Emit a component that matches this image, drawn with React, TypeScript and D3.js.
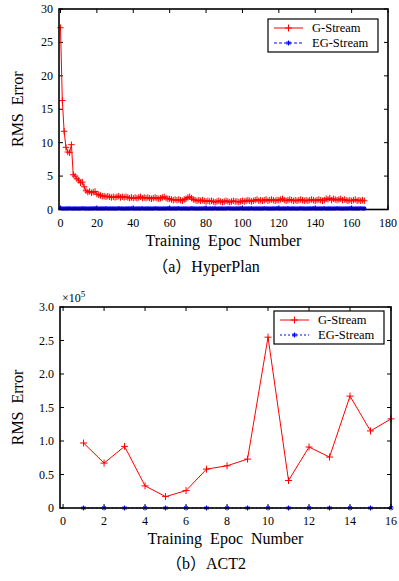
import React from 'react';
import * as d3 from 'd3';

// (a) HyperPlan: RMS error per training epoch, epochs 0..167
const hyperG: number[] = [
  27.2, 16.3, 11.7, 9.3, 8.6, 8.5, 9.7, 5.2, 5.0, 4.6, 4.4, 4.0, 4.1, 3.4, 2.8, 2.6, 2.7, 2.5, 2.6, 2.7,
  2.3, 2.2, 2.1, 2.0, 2.0, 1.9, 2.0, 1.9, 1.8, 1.9, 1.8, 1.9, 2.0, 1.8, 1.9, 1.8, 1.9, 1.8, 1.7, 1.8,
  1.7, 1.8, 1.7, 1.8, 1.9, 1.7, 1.8, 1.7, 1.8, 1.7, 1.6, 1.7, 1.8, 1.7, 1.6, 1.7, 1.8, 1.9, 1.7, 1.6,
  1.6, 1.5, 1.4, 1.5, 1.4, 1.5, 1.4, 1.3, 1.5, 1.6, 1.8, 1.9, 1.7, 1.5, 1.4, 1.3, 1.4, 1.3, 1.4, 1.3,
  1.2, 1.3, 1.2, 1.3, 1.2, 1.1, 1.2, 1.3, 1.2, 1.1, 1.2, 1.3, 1.2, 1.1, 1.2, 1.3, 1.2, 1.2, 1.1, 1.2,
  1.3, 1.2, 1.3, 1.4, 1.3, 1.2, 1.3, 1.4, 1.5, 1.3, 1.4, 1.3, 1.4, 1.5, 1.3, 1.4, 1.5, 1.4, 1.3, 1.4,
  1.4, 1.5, 1.6, 1.4, 1.3, 1.4, 1.5, 1.4, 1.3, 1.4, 1.3, 1.4, 1.5, 1.4, 1.3, 1.4, 1.3, 1.4, 1.5, 1.4,
  1.3, 1.4, 1.5, 1.4, 1.3, 1.4, 1.6, 1.5, 1.7, 1.4, 1.6, 1.5, 1.4, 1.5, 1.6, 1.4, 1.5, 1.4, 1.3, 1.4,
  1.3, 1.4, 1.5, 1.3, 1.4, 1.3, 1.4, 1.3,
];
const hyperEG: number[] = [
  0.17, 0.15, 0.14, 0.16, 0.15, 0.17, 0.14, 0.15, 0.16, 0.15, 0.14, 0.15, 0.17, 0.16, 0.15, 0.14, 0.15, 0.16, 0.15, 0.17,
  0.15, 0.14, 0.16, 0.15, 0.15, 0.17, 0.14, 0.15, 0.16, 0.15, 0.14, 0.15, 0.17, 0.16, 0.15, 0.14, 0.15, 0.16, 0.15, 0.17,
  0.15, 0.14, 0.16, 0.15, 0.15, 0.17, 0.14, 0.15, 0.16, 0.15, 0.14, 0.15, 0.17, 0.16, 0.15, 0.14, 0.15, 0.16, 0.15, 0.17,
  0.15, 0.14, 0.16, 0.15, 0.15, 0.17, 0.14, 0.15, 0.16, 0.15, 0.14, 0.15, 0.17, 0.16, 0.15, 0.14, 0.15, 0.16, 0.15, 0.17,
  0.15, 0.14, 0.16, 0.15, 0.15, 0.17, 0.14, 0.15, 0.16, 0.15, 0.14, 0.15, 0.17, 0.16, 0.15, 0.14, 0.15, 0.16, 0.15, 0.17,
  0.15, 0.14, 0.16, 0.15, 0.15, 0.17, 0.14, 0.15, 0.16, 0.15, 0.14, 0.15, 0.17, 0.16, 0.15, 0.14, 0.15, 0.16, 0.15, 0.17,
  0.15, 0.14, 0.16, 0.15, 0.15, 0.17, 0.14, 0.15, 0.16, 0.15, 0.14, 0.15, 0.17, 0.16, 0.15, 0.14, 0.15, 0.16, 0.15, 0.17,
  0.15, 0.14, 0.16, 0.15, 0.15, 0.17, 0.14, 0.15, 0.16, 0.15, 0.14, 0.15, 0.17, 0.16, 0.15, 0.14, 0.15, 0.16, 0.15, 0.17,
  0.15, 0.14, 0.16, 0.15, 0.15, 0.17, 0.14, 0.15,
];
const hyperXTicks = [0, 20, 40, 60, 80, 100, 120, 140, 160, 180];
const hyperYTicks = [0, 5, 10, 15, 20, 25, 30];

// (b) ACT2: RMS error (x10^5) per training epoch, epochs 1..16
const actEpochs = [1, 2, 3, 4, 5, 6, 7, 8, 9, 10, 11, 12, 13, 14, 15, 16];
const actG = [0.97, 0.67, 0.92, 0.33, 0.17, 0.26, 0.58, 0.63, 0.73, 2.55, 0.41, 0.91, 0.76, 1.67, 1.15, 1.33];
const actEG = [0, 0, 0, 0, 0, 0, 0, 0, 0, 0, 0, 0, 0, 0, 0, 0];
const actXTicks = [0, 2, 4, 6, 8, 10, 12, 14, 16];
const actYTicks = [0, 0.5, 1.0, 1.5, 2.0, 2.5, 3.0];

const seriesNames = ['G-Stream', 'EG-Stream'];

const RED = '#ff0000';
const BLUE = '#0000ff';
const FONT = '"Liberation Serif", "Noto Sans CJK SC", serif';

const Plus = ({ x, y, s = 3.5 }: { x: number; y: number; s?: number }) => (
  <path d={`M${x - s},${y}H${x + s}M${x},${y - s}V${y + s}`} stroke={RED} strokeWidth={1} fill="none" />
);

const Star = ({ x, y, s = 2.5, w = 1 }: { x: number; y: number; s?: number; w?: number }) => (
  <path
    d={`M${x - s},${y}H${x + s}M${x},${y - s}V${y + s}M${x - s * 0.7},${y - s * 0.7}L${x + s * 0.7},${y + s * 0.7}M${x - s * 0.7},${y + s * 0.7}L${x + s * 0.7},${y - s * 0.7}`}
    stroke={BLUE}
    strokeWidth={w}
    fill="none"
  />
);

interface PanelProps {
  xs: number[];
  g: number[];
  eg: number[];
  xDomain: [number, number];
  xRange: [number, number];
  yDomain: [number, number];
  box: { l: number; r: number; t: number; b: number };
  xTicks: number[];
  yTicks: number[];
  yFmt: (v: number) => string;
  legend: { x: number; y: number; w: number; h: number };
  caption: string;
  capY: number;
  plusSize: number;
  starSize: number;
  starWidth: number;
  egDash: string;
  exponent?: boolean;
}

const Panel: React.FC<PanelProps> = (p) => {
  const x = d3.scaleLinear().domain(p.xDomain).range(p.xRange);
  const y = d3.scaleLinear().domain(p.yDomain).range([p.box.b, p.box.t]);
  const lineG = d3.line<number>().x((_, i) => x(p.xs[i])).y((d) => y(d))(p.g) || '';
  const lineEG = d3.line<number>().x((_, i) => x(p.xs[i])).y((d) => y(d))(p.eg) || '';
  const tk = 4;
  const { l, r, t, b } = p.box;
  const lg = p.legend;
  const row1 = lg.y + 9;
  const row2 = lg.y + lg.h - 9;
  const sx0 = lg.x + 6;
  const sx1 = lg.x + 35;
  const smid = (sx0 + sx1) / 2;
  return (
    <g fontFamily={FONT}>
      {/* ticks on all four sides */}
      {p.xTicks.map((v) => (
        <g key={`xt${v}`}>
          <line x1={x(v)} x2={x(v)} y1={b} y2={b - tk} stroke="#000" />
          <line x1={x(v)} x2={x(v)} y1={t} y2={t + tk} stroke="#000" />
          <text x={x(v)} y={b + 17} textAnchor="middle" fontSize={12}>{v}</text>
        </g>
      ))}
      {p.yTicks.map((v) => (
        <g key={`yt${v}`}>
          <line x1={l} x2={l + tk} y1={y(v)} y2={y(v)} stroke="#000" />
          <line x1={r} x2={r - tk} y1={y(v)} y2={y(v)} stroke="#000" />
          <text x={l - 6} y={y(v) + 4} textAnchor="end" fontSize={12}>{p.yFmt(v)}</text>
        </g>
      ))}
      <path d={lineEG} fill="none" stroke={BLUE} strokeWidth={1} strokeDasharray={p.egDash} />
      {p.eg.map((v, i) => <Star key={`e${i}`} x={x(p.xs[i])} y={y(v)} s={p.starSize} w={p.starWidth} />)}
      <path d={lineG} fill="none" stroke={RED} strokeWidth={1} />
      {p.g.map((v, i) => <Plus key={`g${i}`} x={x(p.xs[i])} y={y(v)} s={p.plusSize} />)}
      <rect x={l} y={t} width={r - l} height={b - t} fill="none" stroke="#000" strokeWidth={1.6} />
      {p.exponent && (
        <text x={l + 2} y={t - 5} fontSize={12}>
          ×10<tspan fontSize={9} dy={-5}>5</tspan>
        </text>
      )}
      {/* legend */}
      <rect x={lg.x} y={lg.y} width={lg.w} height={lg.h} fill="#fff" stroke="#000" strokeWidth={1.2} />
      <line x1={sx0} x2={sx1} y1={row1} y2={row1} stroke={RED} />
      <Plus x={smid} y={row1} s={3.5} />
      <text x={lg.x + 44} y={row1 + 4} fontSize={12.5}>{seriesNames[0]}</text>
      <line x1={sx0} x2={sx1} y1={row2} y2={row2} stroke={BLUE} strokeDasharray={p.egDash} />
      <Star x={smid} y={row2} s={2.5} />
      <text x={lg.x + 44} y={row2 + 4} fontSize={12.5}>{seriesNames[1]}</text>
      {/* axis titles */}
      <text x={(l + r) / 2} y={b + 36} textAnchor="middle" fontSize={16} wordSpacing={4}>Training Epoc Number</text>
      <text transform={`translate(23,${(t + b) / 2}) rotate(-90)`} textAnchor="middle" fontSize={16} wordSpacing={4}>RMS Error</text>
      <text x={206} y={p.capY} textAnchor="middle" fontSize={16}>{p.caption}</text>
    </g>
  );
};

export default function App() {
  const hyperEpochs = hyperG.map((_, i) => i);
  return (
    <svg width={399} height={581} style={{ position: 'absolute', left: 0, top: 0, background: '#fff' }}>
      <rect width={399} height={581} fill="#fff" />
      <Panel
        xs={hyperEpochs}
        g={hyperG}
        eg={hyperEG}
        xDomain={[0, 180]}
        xRange={[60.5, 388]}
        yDomain={[0, 30]}
        box={{ l: 59, r: 388, t: 9, b: 209.5 }}
        xTicks={hyperXTicks}
        yTicks={hyperYTicks}
        yFmt={(v) => String(v)}
        legend={{ x: 268, y: 19, w: 110, h: 33 }}
        caption="（a）HyperPlan"
        capY={272}
        plusSize={3.2}
        starSize={2}
        starWidth={1.4}
        egDash="3,2"
      />
      <Panel
        xs={actEpochs}
        g={actG}
        eg={actEG}
        xDomain={[-0.15, 16]}
        xRange={[60, 391]}
        yDomain={[0, 3]}
        box={{ l: 60, r: 391, t: 307, b: 508 }}
        xTicks={actXTicks}
        yTicks={actYTicks}
        yFmt={(v) => (v === 0 ? '0' : v.toFixed(1))}
        legend={{ x: 274, y: 311, w: 110, h: 33 }}
        caption="（b）ACT2"
        capY={569}
        plusSize={3.5}
        starSize={2.5}
        starWidth={1}
        egDash="2,2"
        exponent
      />
    </svg>
  );
}
